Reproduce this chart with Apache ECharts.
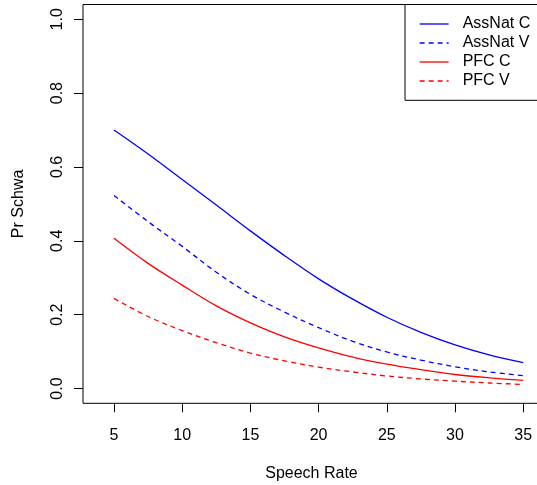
<!DOCTYPE html>
<html>
<head>
<meta charset="utf-8">
<script src="https://cdn.jsdelivr.net/npm/echarts@6/dist/echarts.min.js"></script>
<style>
html,body{margin:0;padding:0;background:#fff;}
#chart{width:537px;height:485px;}
</style>
</head>
<body>
<div id="chart"></div>
<script>
var speechRate = [5, 7.5, 10, 12.5, 15, 17.5, 20, 22.5, 25, 27.5, 30, 32.5, 35];
var assNatC = [0.700, 0.635, 0.566, 0.497, 0.427, 0.360, 0.297, 0.242, 0.193, 0.152, 0.118, 0.091, 0.070];
var assNatV = [0.523, 0.452, 0.385, 0.315, 0.255, 0.207, 0.165, 0.128, 0.099, 0.077, 0.059, 0.045, 0.035];
var pfcC    = [0.407, 0.339, 0.280, 0.224, 0.178, 0.140, 0.110, 0.085, 0.066, 0.051, 0.038, 0.029, 0.022];
var pfcV    = [0.244, 0.195, 0.157, 0.124, 0.096, 0.075, 0.058, 0.045, 0.034, 0.026, 0.020, 0.015, 0.011];
var seriesNames = ['AssNat C', 'AssNat V', 'PFC C', 'PFC V'];
var xTicks = [5, 10, 15, 20, 25, 30, 35];
var yTicks = [0, 0.2, 0.4, 0.6, 0.8, 1.0];

function pairs(ys){ return speechRate.map(function(x,i){ return [x, ys[i]]; }); }
var FONT = '"Liberation Sans", Arial, Helvetica, sans-serif';

function mk(name, data, color, dashed){
  return {
    name: name, type: 'line', data: pairs(data), smooth: 0.35,
    symbol: 'none', showSymbol: false,
    lineStyle: {color: color, width: 1.3, type: dashed ? [5, 4] : 'solid'},
    itemStyle: {color: color}
  };
}

var chart = echarts.init(document.getElementById('chart'));
chart.setOption({
  animation: false,
  backgroundColor: '#ffffff',
  textStyle: {fontFamily: FONT},
  grid: {left: 83, top: 4.5, right: -3, bottom: 81.7, show: true, borderColor: '#000', borderWidth: 1,
    backgroundColor: 'transparent', containLabel: false, outerBoundsMode: 'none'},
  xAxis: {
    type: 'value', min: 2.728, max: 36.23,
    name: 'Speech Rate', nameLocation: 'middle', nameGap: 62,
    nameTextStyle: {fontSize: 16, color: '#000', fontFamily: FONT},
    axisLine: {show: false, onZero: false},
    splitLine: {show: false},
    axisTick: {show: true, length: 9, inside: false, lineStyle: {color: '#000', width: 1}, customValues: xTicks},
    axisLabel: {show: true, fontSize: 16, color: '#000', margin: 24, fontFamily: FONT, customValues: xTicks}
  },
  yAxis: {
    type: 'value', min: -0.04, max: 1.04,
    name: 'Pr Schwa', nameLocation: 'middle', nameGap: 56, nameRotate: 90,
    nameTextStyle: {fontSize: 16, color: '#000', fontFamily: FONT},
    axisLine: {show: false, onZero: false},
    splitLine: {show: false},
    axisTick: {show: true, length: 9, inside: false, lineStyle: {color: '#000', width: 1}, customValues: yTicks},
    axisLabel: {show: true, fontSize: 16, color: '#000', margin: 17, rotate: 90, fontFamily: FONT,
      customValues: yTicks, formatter: function(v){ return v.toFixed(1); }}
  },
  legend: {
    orient: 'vertical', left: 405, top: 4.5,
    data: seriesNames,
    itemWidth: 29, itemHeight: 16, itemGap: 3,
    padding: [11.5, 60, 11.3, 14],
    borderColor: '#000', borderWidth: 1, borderRadius: 0,
    backgroundColor: '#fff',
    itemStyle: {opacity: 0, borderWidth: 0},
    lineStyle: {width: 1.3},
    textStyle: {fontSize: 16, color: '#000', fontFamily: FONT, padding: [0, 0, 0, 9]}
  },
  series: [
    mk(seriesNames[0], assNatC, '#0000ff', false),
    mk(seriesNames[1], assNatV, '#0000ff', true),
    mk(seriesNames[2], pfcC, '#ff0000', false),
    mk(seriesNames[3], pfcV, '#ff0000', true)
  ]
});
</script>
</body>
</html>
